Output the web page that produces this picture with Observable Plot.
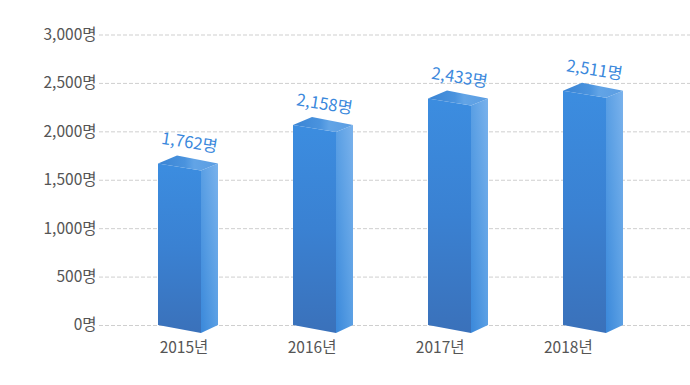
<!DOCTYPE html>
<html><head><meta charset="utf-8">
<script src="https://cdn.jsdelivr.net/npm/d3@7"></script>
<script src="https://cdn.jsdelivr.net/npm/@observablehq/plot@0.6"></script>
<style>body{margin:0;background:#fff;}</style>
</head><body><div id="chart"></div>
<script>
const years = ["2015", "2016", "2017", "2018"];
const values = [1762, 2158, 2433, 2511];
const yTicks = [0, 500, 1000, 1500, 2000, 2500, 3000];
const data = years.map((year, i) => ({year, value: values[i]}));
const fmt = d3.format(",");
const FONT = "'Noto Sans CJK KR', 'Noto Sans', sans-serif";

function bars3d(index, scales, vals) {
  const g = d3.create("svg:g");
  const defs = g.append("defs");
  const grad = (id, x1, y1, x2, y2, stops) => {
    const lg = defs.append("linearGradient").attr("id", id)
      .attr("x1", x1).attr("y1", y1).attr("x2", x2).attr("y2", y2);
    for (const [o, c] of stops) lg.append("stop").attr("offset", o).attr("stop-color", c);
  };
  grad("gFront", 0, 0, 0, 1, [[0, "#3c8de0"], [0.5, "#3a81d2"], [1, "#3a71ba"]]);
  grad("gSide", 1, 0, 0, 1, [[0, "#7ab2ec"], [0.5, "#5a9fe4"], [1, "#3a88da"]]);
  grad("gTop", 0, 0, 1, 0, [[0, "#3a84d4"], [0.45, "#4a93de"], [0.6, "#62a4e6"], [1, "#5b9de2"]]);
  const y0 = scales.y(0);
  const pts = p => p.map(q => q.join(",")).join(" ");
  for (const i of index) {
    const cx = vals.x[i];
    const T = vals.y[i] + 9;
    const L = cx - 30;
    g.append("polygon").attr("points", pts([[L, T], [L + 43, T + 7], [L + 43, y0 + 8], [L, y0]])).attr("fill", "url(#gFront)");
    g.append("polygon").attr("points", pts([[L + 43, T + 7], [L + 60, T], [L + 60, y0], [L + 43, y0 + 8]])).attr("fill", "url(#gSide)");
    g.append("polygon").attr("points", pts([[L, T], [L + 19, T - 8], [L + 60, T], [L + 43, T + 7]])).attr("fill", "url(#gTop)");
  }
  return g.node();
}

function perspectiveLabels(index, scales, vals, dims, ctx, next) {
  const x0 = dims.marginLeft;
  const xs = Float64Array.from(vals.x, v => x0 + 0.949 * (v - x0));
  return next(index, scales, {...vals, x: xs}, dims, ctx);
}

const chart = Plot.plot({
  width: 690,
  height: 385,
  marginLeft: 99,
  marginRight: 0,
  marginTop: 34.5,
  marginBottom: 60,
  style: {fontFamily: FONT, fontSize: "15.5px", background: "#fff"},
  x: {type: "point", domain: years, range: [188, 593], padding: 0, axis: null},
  y: {domain: [0, 3000], axis: null},
  marks: [
    Plot.gridY(yTicks, {stroke: "#cfcfcf", strokeOpacity: 1, strokeDasharray: "4,2"}),
    Plot.axisY(yTicks, {label: null, tickFormat: d => fmt(d) + "명", tickSize: 0, tickPadding: 3, fill: "#555", fontSize: 15.5}),
    Plot.dot(data, {x: "year", y: "value", render: bars3d}),
    Plot.text(data, {x: "year", y: "value", dy: -12, dx: 1, rotate: 9, text: d => fmt(d.value) + "명", fill: "#3a88dc", fontSize: 16.5}),
    Plot.text(years, {x: d => d, frameAnchor: "bottom", dy: 27, text: d => d + "년", fill: "#555", fontSize: 15.5, render: perspectiveLabels})
  ]
});
document.getElementById("chart").appendChild(chart);
</script>
</body></html>
